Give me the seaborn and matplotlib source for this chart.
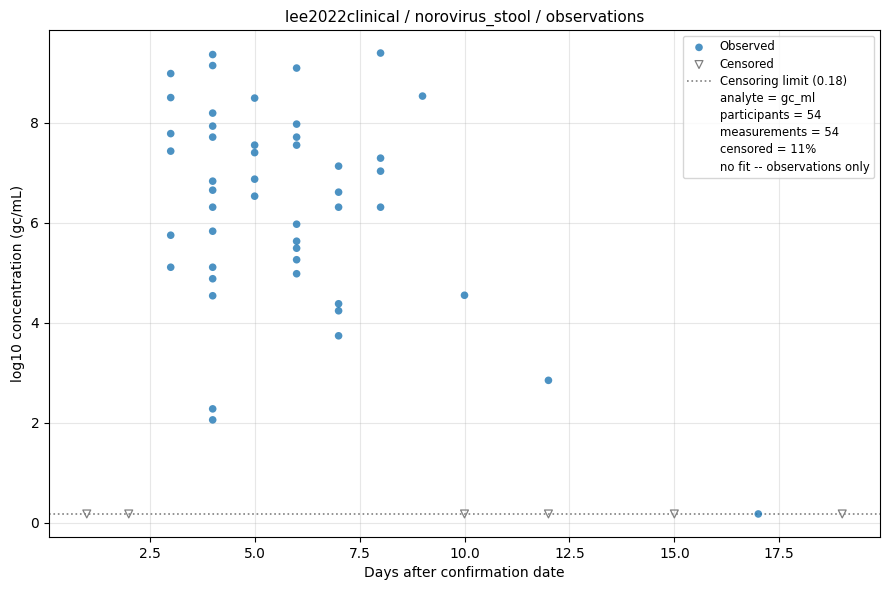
import matplotlib
matplotlib.use("Agg")
import matplotlib.pyplot as plt
from matplotlib.lines import Line2D
import seaborn as sns
import pandas as pd

obs_days = [3]*6 + [4]*14 + [5]*5 + [6]*9 + [7]*6 + [8]*4 + [9, 10, 12, 17]
obs_values = [8.98, 8.50, 7.78, 7.43, 5.75, 5.11,
              9.36, 9.14, 8.19, 7.93, 7.71, 6.83, 6.65, 6.31, 5.83, 5.11, 4.88, 4.54, 2.28, 2.06,
              8.49, 7.55, 7.40, 6.87, 6.53,
              9.09, 7.97, 7.71, 7.55, 5.97, 5.63, 5.49, 5.26, 4.98,
              7.13, 6.61, 6.31, 4.38, 4.24, 3.74,
              9.39, 7.29, 7.03, 6.31,
              8.53, 4.55, 2.85, 0.18]
cens_days = [1, 2, 10, 12, 15, 19]
limit = 0.18
cens_values = [limit]*len(cens_days)

obs = pd.DataFrame({"day": obs_days, "value": obs_values})
cens = pd.DataFrame({"day": cens_days, "value": cens_values})

fig, ax = plt.subplots(figsize=(8.9, 5.9), dpi=100)
sns.scatterplot(data=obs, x="day", y="value", ax=ax, s=30, color="C0", alpha=0.8,
                edgecolor="none", label="Observed", zorder=3)
sns.scatterplot(data=cens, x="day", y="value", ax=ax, s=32, marker="v",
                facecolor="none", edgecolor="gray", linewidth=0.9, label="Censored", zorder=3)
ax.axhline(limit, color="gray", linestyle=":", linewidth=1.2, label=f"Censoring limit ({limit})")
ax.grid(True, alpha=0.3)
ax.set_axisbelow(True)
ax.set_xlabel("Days after confirmation date")
ax.set_ylabel("log10 concentration (gc/mL)")
ax.set_title("lee2022clinical / norovirus_stool / observations", fontsize=11)

handles, labels = ax.get_legend_handles_labels()
extra = ["analyte = gc_ml", "participants = 54", "measurements = 54",
         "censored = 11%", "no fit -- observations only"]
for t in extra:
    handles.append(Line2D([], [], linestyle="none", marker=None))
    labels.append(t)
ax.legend(handles, labels, loc="upper right", fontsize="small", labelspacing=0.36)

fig.subplots_adjust(left=49/890, right=880/890, top=1-30/590, bottom=1-537/590)
fig.savefig("out.png")
